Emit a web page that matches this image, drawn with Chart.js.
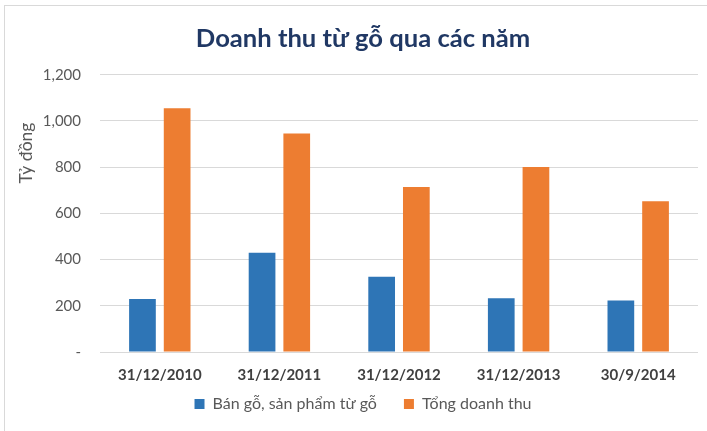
<!DOCTYPE html>
<html>
<head>
<meta charset="utf-8">
<script src="https://cdn.jsdelivr.net/npm/chart.js@4"></script>
<style>
  html, body { margin: 0; padding: 0; background: #fff; }
  #wrap { position: relative; width: 707px; height: 431px; }
  #frame { position: absolute; left: 4px; top: 5px; width: 720px; height: 440px; border-left: 1px solid #d9d9d9; border-top: 1px solid #d9d9d9; box-sizing: border-box; pointer-events: none; }
  canvas { position: absolute; left: 0; top: 0; }
</style>
</head>
<body>
<div id="wrap">
  <canvas id="c" width="707" height="431"></canvas>
  <div id="frame"></div>
</div>
<script>
const categories = ['31/12/2010', '31/12/2011', '31/12/2012', '31/12/2013', '30/9/2014'];
const banGo = [229, 429, 326, 233, 223];
const tongDoanhThu = [1055, 946, 714, 801, 652];
const seriesNames = ['Bán gỗ, sản phẩm từ gỗ', 'Tổng doanh thu'];
const chartTitle = 'Doanh thu từ gỗ qua các năm';
const yTitle = 'Tỷ đồng';

const yAxisTitlePlugin = {
  id: 'yAxisTitle',
  afterDraw(chart) {
    const ctx = chart.ctx;
    ctx.save();
    ctx.translate(26, 153);
    ctx.rotate(-Math.PI / 2);
    ctx.font = '17.5px Lato';
    ctx.fillStyle = '#595959';
    ctx.textAlign = 'center';
    ctx.textBaseline = 'middle';
    ctx.fillText(yTitle, 0, 0);
    ctx.restore();
  }
};

new Chart(document.getElementById('c'), {
  type: 'bar',
  data: {
    labels: categories,
    datasets: [
      { label: seriesNames[0], data: banGo, backgroundColor: '#2E75B6', categoryPercentage: 0.58, barPercentage: 0.77 },
      { label: seriesNames[1], data: tongDoanhThu, backgroundColor: '#ED7D31', categoryPercentage: 0.58, barPercentage: 0.77 }
    ]
  },
  options: {
    responsive: false,
    animation: false,
    devicePixelRatio: 1,
    layout: { padding: { left: 19, top: 0, right: 0, bottom: 9 } },
    plugins: {
      title: {
        display: true,
        text: chartTitle,
        color: '#203864',
        font: { family: 'Lato', size: 25.6, weight: 'bold' },
        padding: { top: 23, bottom: 21 }
      },
      legend: {
        position: 'bottom',
        labels: {
          boxWidth: 10, boxHeight: 10, padding: 27,
          color: '#595959',
          font: { family: 'Lato', size: 16 }
        }
      },
      tooltip: { enabled: false }
    },
    scales: {
      x: {
        afterFit(s) { s.height = 17; s._computeLabelArea = () => undefined; },
        grid: { display: false, drawTicks: false },
        border: { display: false },
        ticks: {
          autoSkip: false, maxRotation: 0, padding: 14,
          color: '#404040', font: { family: 'Lato', size: 15, weight: 'bold' }
        }
      },
      y: {
        min: 0, max: 1200,
        afterFit(s) { s.width = 81; },
        grid: { color: '#d9d9d9', drawTicks: false },
        border: { display: false },
        ticks: {
          stepSize: 200, padding: 19, color: '#595959',
          font: { family: 'Lato', size: 15 },
          callback: v => v === 0 ? '-' : v.toLocaleString('en-US')
        }
      },
      y2: {
        position: 'right',
        afterFit(s) { s.width = 9; },
        grid: { display: false, drawTicks: false },
        border: { display: false },
        ticks: { display: false }
      }
    }
  },
  plugins: [yAxisTitlePlugin]
});
</script>
</body>
</html>
